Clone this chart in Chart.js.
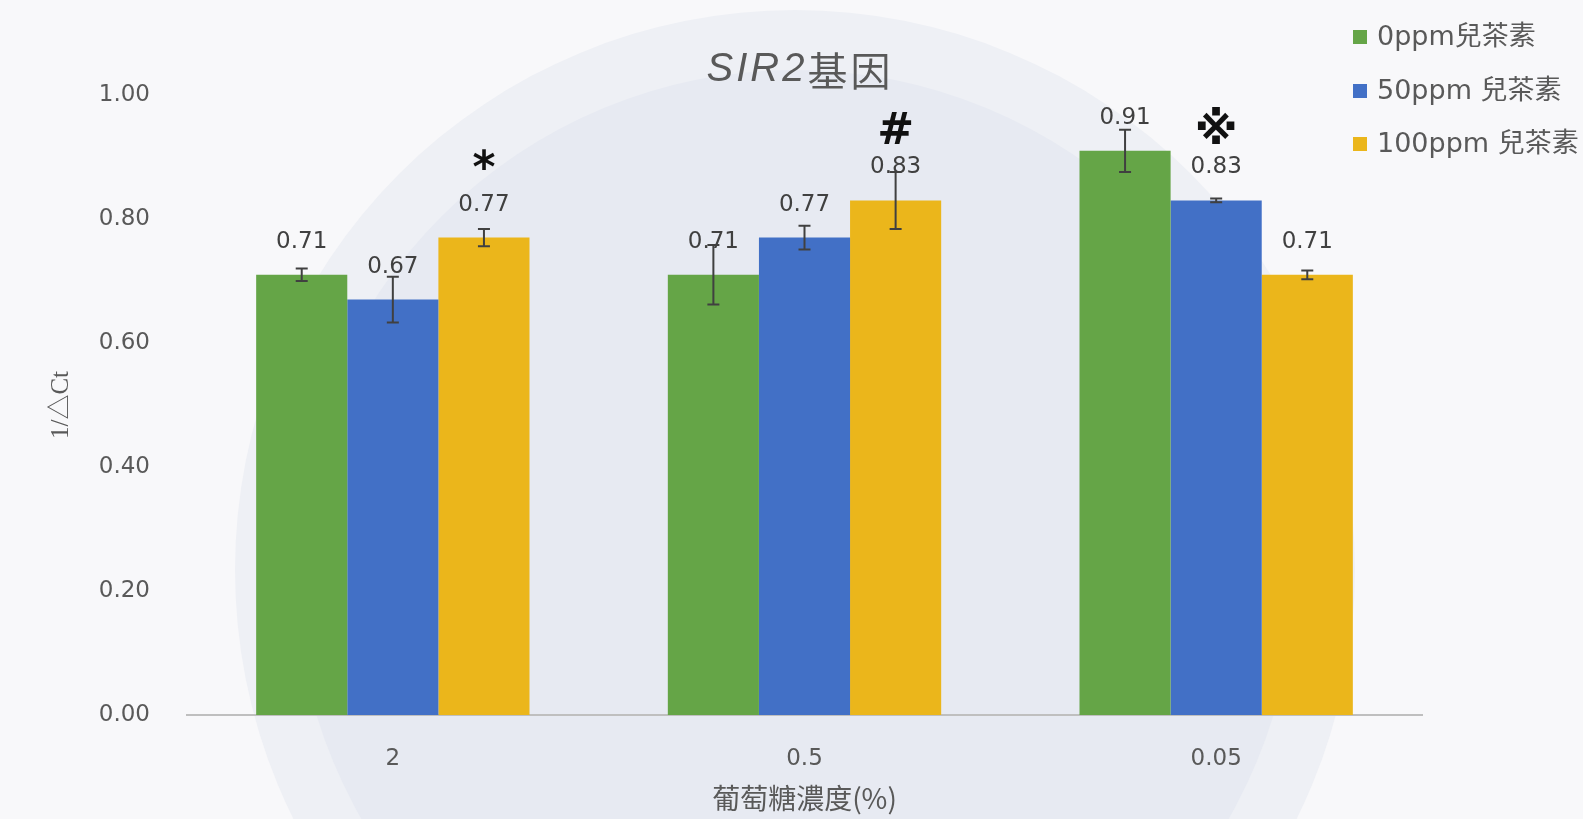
<!DOCTYPE html>
<html>
<head>
<meta charset="utf-8">
<script src="https://cdn.jsdelivr.net/npm/chart.js@4"></script>
<style>
html,body{margin:0;padding:0;background:#f7f7f9;}
#wrap{width:1583px;height:819px;position:relative;}
</style>
</head>
<body>
<div id="wrap"><canvas id="c" width="1583" height="819"></canvas></div>
<script>
const categories = ['2', '0.5', '0.05'];
const seriesNames = ['0ppm兒茶素', '50ppm 兒茶素', '100ppm 兒茶素'];
const values0 = [0.71, 0.71, 0.91];
const values50 = [0.67, 0.77, 0.83];
const values100 = [0.77, 0.83, 0.71];
const errors0 = [0.010, 0.048, 0.034];
const errors50 = [0.037, 0.019, 0.003];
const errors100 = [0.014, 0.046, 0.007];
const marks0 = ['', '', ''];
const marks50 = ['', '', '※'];
const marks100 = ['*', '#', ''];
const yTickValues = [0, 0.2, 0.4, 0.6, 0.8, 1.0];
const titleItalic = 'SIR2';
const titleRest = '基因';
const xTitle = '葡萄糖濃度(%)';
const yTitle = '1/△Ct';

const colors = ['#65a547', '#4270c6', '#ebb61b'];
const allValues = [values0, values50, values100];
const allErrors = [errors0, errors50, errors100];
const allMarks = [marks0, marks50, marks100];

const NUM_FONT = '"DejaVu Sans", "Noto Sans CJK TC", sans-serif';

const bgPlugin = {
  id: 'bg',
  beforeDraw(chart) {
    const ctx = chart.ctx;
    ctx.save();
    ctx.fillStyle = '#f8f8fa';
    ctx.fillRect(0, 0, chart.width, chart.height);
    ctx.beginPath();
    ctx.arc(795, 570, 560, 0, Math.PI * 2);
    ctx.fillStyle = '#eef0f5';
    ctx.fill();
    ctx.beginPath();
    ctx.arc(795, 570, 500, 0, Math.PI * 2);
    ctx.fillStyle = '#e7eaf2';
    ctx.fill();
    ctx.restore();
  }
};

const decoPlugin = {
  id: 'deco',
  afterDatasetsDraw(chart) {
    const ctx = chart.ctx;
    const y = chart.scales.y;
    ctx.save();
    chart.data.datasets.forEach((ds, di) => {
      const meta = chart.getDatasetMeta(di);
      meta.data.forEach((bar, i) => {
        const v = ds.data[i];
        const e = allErrors[di][i];
        const yt = y.getPixelForValue(v + e);
        const yb = y.getPixelForValue(v - e);
        ctx.strokeStyle = '#404040';
        ctx.lineWidth = 2;
        ctx.beginPath();
        ctx.moveTo(bar.x, yt); ctx.lineTo(bar.x, yb);
        ctx.moveTo(bar.x - 6, yt); ctx.lineTo(bar.x + 6, yt);
        ctx.moveTo(bar.x - 6, yb); ctx.lineTo(bar.x + 6, yb);
        ctx.stroke();
        // value label
        ctx.fillStyle = '#404040';
        ctx.font = '23px ' + NUM_FONT;
        ctx.textAlign = 'center';
        ctx.textBaseline = 'middle';
        ctx.fillText(v.toFixed(2), bar.x, bar.y - 33);
        // significance mark
        const m = allMarks[di][i];
        if (m) {
          ctx.fillStyle = '#111111';
          ctx.textBaseline = 'alphabetic';
          ctx.font = 'bold 44px "DejaVu Sans", "Noto Sans CJK TC", sans-serif';
          ctx.fillText(m, bar.x, bar.y - 56);
        }
      });
    });
    ctx.restore();
  },
  afterDraw(chart) {
    const ctx = chart.ctx;
    ctx.save();
    // title: italic part + normal part, centred
    ctx.letterSpacing = '3px';
    const fi = 'italic 40px "Liberation Sans", Arial, sans-serif';
    const fn = '40px "Noto Sans CJK TC", sans-serif';
    ctx.font = fi; const w1 = ctx.measureText(titleItalic).width;
    ctx.font = fn; const w2 = ctx.measureText(titleRest).width;
    const cx = 800, cy = 70;
    let x0 = cx - (w1 + w2) / 2;
    ctx.fillStyle = '#595959';
    ctx.textBaseline = 'middle';
    ctx.textAlign = 'left';
    ctx.font = fi; ctx.fillText(titleItalic, x0, cy);
    ctx.font = fn; ctx.fillText(titleRest, x0 + w1, cy + 1);
    ctx.letterSpacing = '0px';
    // legend
    ctx.font = '27px ' + NUM_FONT;
    const ly = [37, 91, 144];
    seriesNames.forEach((n, i) => {
      ctx.fillStyle = colors[i];
      ctx.fillRect(1353, ly[i] - 7, 14, 14);
      ctx.fillStyle = '#595959';
      ctx.fillText(n, 1377, ly[i] + 1);
    });
    ctx.restore();
  }
};

const chart = new Chart(document.getElementById('c'), {
  type: 'bar',
  data: {
    labels: categories,
    datasets: seriesNames.map((n, i) => ({
      label: n,
      data: allValues[i],
      backgroundColor: colors[i],
      borderWidth: 0,
      categoryPercentage: 0.664,
      barPercentage: 1.0
    }))
  },
  options: {
    responsive: false,
    animation: false,
    layout: { padding: { left: 0, right: 161, top: 95, bottom: 0 } },
    plugins: {
      legend: { display: false },
      tooltip: { enabled: false },
      title: { display: false }
    },
    scales: {
      x: {
        grid: { display: false, drawTicks: false },
        border: { display: true, color: '#bfbfbf', width: 2 },
        ticks: { color: '#595959', font: { family: NUM_FONT, size: 23 }, padding: 30 },
        title: { display: true, text: xTitle, color: '#595959', font: { family: '"Noto Sans CJK TC", sans-serif', size: 28 }, padding: { top: 0, bottom: 4 } },
        afterFit(s) { s.height = 104; }
      },
      y: {
        min: 0, max: 1,
        afterBuildTicks(s) { s.ticks = yTickValues.map(v => ({ value: v })); },
        grid: { display: false, drawTicks: false },
        border: { display: false },
        ticks: { color: '#595959', font: { family: NUM_FONT, size: 23 }, padding: 37, callback: v => Number(v).toFixed(2) },
        title: { display: true, text: yTitle, color: '#595959', font: { family: '"Liberation Serif", "Noto Sans CJK TC", serif', size: 25 }, padding: { top: 46, bottom: 0 } },
        afterFit(s) { s.width = 187; }
      }
    }
  },
  plugins: [bgPlugin, decoPlugin]
});
</script>
</body>
</html>
